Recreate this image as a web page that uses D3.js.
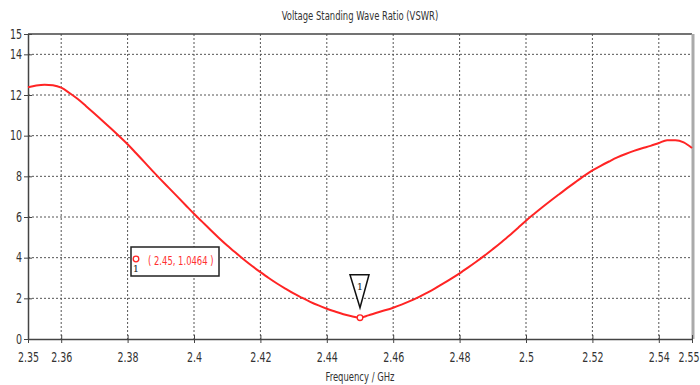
<!DOCTYPE html>
<head>
  <meta charset="utf-8">
  <script src="https://cdn.jsdelivr.net/npm/d3@7"></script>
  <style>
    body { margin: 0; background: white; }
    text { font-family: "DejaVu Sans Condensed", "DejaVu Sans", sans-serif; fill: #333; }
    .grid line { stroke: #555; stroke-dasharray: 2,2; stroke-width: 1; }
  </style>
</head>
<body>
<script>
// VSWR curve
const freq = [2.35, 2.3525, 2.355, 2.3575, 2.36, 2.3625, 2.365, 2.3675, 2.37, 2.3725,
  2.375, 2.3775, 2.38, 2.3825, 2.385, 2.3875, 2.39, 2.3925, 2.395, 2.3975,
  2.4, 2.4025, 2.405, 2.4075, 2.41, 2.4125, 2.415, 2.4175, 2.42, 2.4225,
  2.425, 2.4275, 2.43, 2.4325, 2.435, 2.4375, 2.44, 2.4425, 2.445, 2.4475,
  2.45, 2.4525, 2.455, 2.4575, 2.46, 2.4625, 2.465, 2.4675, 2.47, 2.4725,
  2.475, 2.4775, 2.48, 2.4825, 2.485, 2.4875, 2.49, 2.4925, 2.495, 2.4975,
  2.5, 2.5025, 2.505, 2.5075, 2.51, 2.5125, 2.515, 2.5175, 2.52, 2.5225,
  2.525, 2.5275, 2.53, 2.5325, 2.535, 2.5375, 2.54, 2.5425, 2.545, 2.5475, 2.55];
const vswr = [12.38, 12.47, 12.51, 12.48, 12.36, 12.10, 11.80, 11.45, 11.09, 10.72,
  10.35, 9.97, 9.58, 9.15, 8.71, 8.27, 7.84, 7.42, 7.00, 6.58,
  6.16, 5.76, 5.36, 4.97, 4.60, 4.25, 3.91, 3.59, 3.29, 3.00,
  2.73, 2.48, 2.24, 2.03, 1.83, 1.65, 1.49, 1.35, 1.22, 1.12,
  1.05, 1.16, 1.29, 1.41, 1.54, 1.69, 1.86, 2.05, 2.26, 2.48,
  2.72, 2.97, 3.23, 3.51, 3.80, 4.10, 4.42, 4.75, 5.09, 5.45,
  5.82, 6.16, 6.49, 6.81, 7.12, 7.43, 7.73, 8.02, 8.29, 8.52,
  8.73, 8.93, 9.10, 9.25, 9.38, 9.50, 9.64, 9.78, 9.78, 9.67, 9.39];
const xTicks = [2.35, 2.36, 2.38, 2.4, 2.42, 2.44, 2.46, 2.48, 2.5, 2.52, 2.54, 2.55];
const yTicks = [0, 2, 4, 6, 8, 10, 12, 14, 15];
const markerFreq = 2.45, markerVal = 1.0464;

const W = 700, H = 385;
const mLeft = 28, mRight = 692, mTop = 34, mBottom = 339;

const svg = d3.select('body').append('svg').attr('width', W).attr('height', H);

const x = d3.scaleLinear().domain([2.35, 2.55]).range([mLeft, mRight]);
const y = d3.scaleLinear().domain([0, 15]).range([mBottom, mTop]);

// the original labels use a narrow font, so squeeze the glyphs a bit
function squeeze(sel, k) {
  sel.each(function () {
    const w = this.getComputedTextLength();
    d3.select(this).attr('textLength', w * k).attr('lengthAdjust', 'spacingAndGlyphs');
  });
}

// grid
const grid = svg.append('g').attr('class', 'grid');
grid.selectAll('.v').data(xTicks.slice(1, -1)).enter().append('line')
  .attr('x1', d => x(d)).attr('x2', d => x(d)).attr('y1', mTop).attr('y2', mBottom);
grid.selectAll('.h').data(yTicks.slice(1, -1)).enter().append('line')
  .attr('x1', mLeft).attr('x2', mRight).attr('y1', d => y(d)).attr('y2', d => y(d));

// frame
svg.append('line').attr('x1', mLeft).attr('x2', mRight).attr('y1', mTop).attr('y2', mTop)
  .attr('stroke', '#444').attr('stroke-width', 1.5);
svg.append('line').attr('x1', mRight + 1).attr('x2', mRight + 1).attr('y1', mTop).attr('y2', mBottom)
  .attr('stroke', '#aaa').attr('stroke-width', 3);

// axes
const xAxis = svg.append('g').attr('transform', `translate(0,${mBottom})`)
  .call(d3.axisBottom(x).tickValues(xTicks).tickFormat(d3.format('')).tickSizeInner(4).tickSizeOuter(0));
xAxis.selectAll('.tick line').attr('y1', -4).attr('y2', 4).attr('stroke', '#444');
xAxis.select('.domain').attr('stroke', '#444').attr('stroke-width', 1.5);
xAxis.selectAll('text').attr('dy', 0).attr('y', 23).style('font-size', '13.5px')
  .style('font-family', null).attr('fill', null);
squeeze(xAxis.selectAll('text'), 0.78);
// last label ends at the window edge
xAxis.selectAll('.tick').filter(d => d === 2.55).select('text')
  .attr('text-anchor', 'start').attr('x', function () { return W - mRight - 1 - (+this.getAttribute('textLength')); });

const yAxis = svg.append('g').attr('transform', `translate(${mLeft},0)`)
  .call(d3.axisLeft(y).tickValues(yTicks).tickSizeInner(4).tickSizeOuter(0));
yAxis.selectAll('.tick line').attr('x1', -4).attr('x2', 4).attr('stroke', '#444');
yAxis.select('.domain').attr('stroke', '#444').attr('stroke-width', 1.5);
yAxis.selectAll('text').attr('x', -6).style('font-size', '13.5px')
  .style('font-family', null).attr('fill', null);
squeeze(yAxis.selectAll('text'), 0.78);

// curve
const line = d3.line().x((d, i) => x(freq[i])).y(d => y(d)).curve(d3.curveMonotoneX);
svg.append('path').datum(vswr).attr('d', line)
  .attr('fill', 'none').attr('stroke', '#ff2424').attr('stroke-width', 2);

// marker on curve
const mx = x(markerFreq), my = y(markerVal);
svg.append('circle').attr('cx', mx).attr('cy', my).attr('r', 2.8)
  .attr('fill', 'white').attr('stroke', '#ff2424').attr('stroke-width', 1.3);
svg.append('path')
  .attr('d', `M${mx - 10},${my - 43} L${mx + 9},${my - 43} L${mx},${my - 10} Z`)
  .attr('fill', 'white').attr('stroke', '#111').attr('stroke-width', 1.5);
svg.append('text').attr('x', mx).attr('y', my - 28).attr('text-anchor', 'middle')
  .style('font-family', '"DejaVu Serif", serif').style('font-size', '10px').style('fill', '#222').text('1');

// marker readout box
const box = svg.append('g');
box.append('rect').attr('x', 131).attr('y', 247).attr('width', 88).attr('height', 29)
  .attr('fill', 'white').attr('stroke', '#222').attr('stroke-width', 1.5);
box.append('circle').attr('cx', 136).attr('cy', 259).attr('r', 2.8)
  .attr('fill', 'none').attr('stroke', '#ff2424').attr('stroke-width', 1.3);
box.append('text').attr('x', 136).attr('y', 272).attr('text-anchor', 'middle')
  .style('font-family', '"DejaVu Serif", serif').style('font-size', '10px').style('fill', '#222').text('1');
const readout = box.append('text').attr('x', 148).attr('y', 265)
  .style('font-size', '12.5px').style('fill', '#ff3030')
  .text(`( ${markerFreq}, ${markerVal} )`);
squeeze(readout, 0.75);

// titles
const title = svg.append('text').attr('x', 360).attr('y', 20).attr('text-anchor', 'middle')
  .style('font-size', '12.5px').text('Voltage Standing Wave Ratio (VSWR)');
squeeze(title, 0.75);
const xLabel = svg.append('text').attr('x', 360).attr('y', 381).attr('text-anchor', 'middle')
  .style('font-size', '12.5px').text('Frequency / GHz');
squeeze(xLabel, 0.75);
</script>
</body>
